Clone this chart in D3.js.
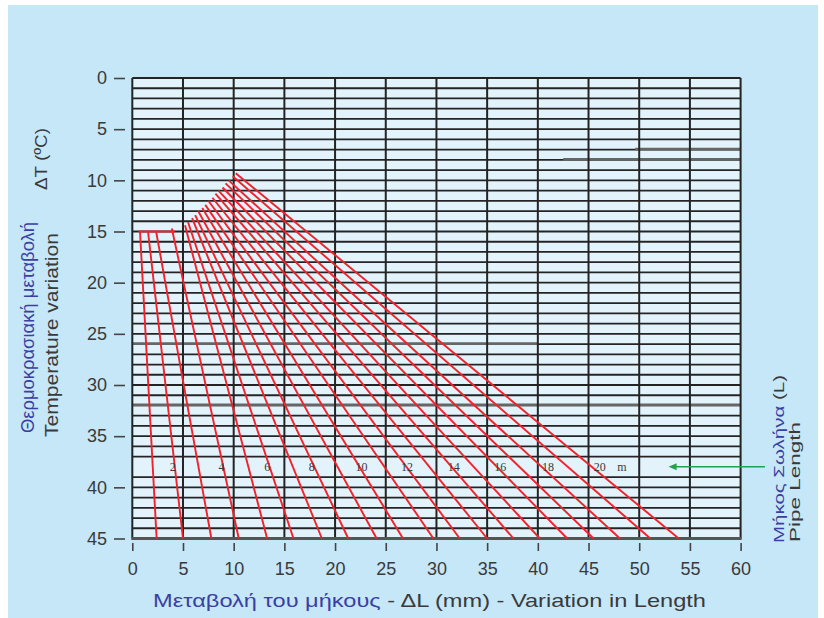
<!doctype html>
<html>
<head>
<meta charset="utf-8">
<script src="https://d3js.org/d3.v7.min.js"></script>
<style>
  body { margin: 0; background: #fff; }
  text { font-family: "Liberation Sans", Arial, sans-serif; }
</style>
</head>
<body>
<svg width="824" height="618"></svg>
<script>

// pipe lengths (m), one red line each
var pipeLengths = [1, 2, 3, 4, 5, 6, 7, 8, 9, 10, 11, 12, 13, 14, 15, 16, 17, 18, 19, 20];
// where each line starts (temperature variation in C, length variation in mm)
var startTemp = [15, 15, 15, 14.7, 14.4, 14.1, 13.7, 13.4, 13.0, 12.7, 12.4, 12.0, 11.7, 11.3, 11.0, 10.7, 10.3, 10.0, 9.6, 9.3];
var startDL   = [0.76, 1.55, 2.35, 3.9, 5.2, 5.5, 5.9, 6.2, 6.5, 6.9, 7.2, 7.5, 7.9, 8.2, 8.5, 8.9, 9.2, 9.5, 9.9, 10.2];
// where each line meets the bottom (dT = 45)
var endTemp = 45;
var endDL   = [2.4, 5.0, 7.8, 10.5, 13.3, 15.9, 18.7, 21.3, 24.1, 26.7, 29.7, 32.3, 35.0, 37.6, 40.2, 42.9, 45.5, 48.1, 51.1, 53.9];

// short red cap at dT = 15
var capTemp = 15;
var capDL = [0.6, 4.2];

// length labels inside the chart
var lengthLabels = ["2", "4", "6", "8", "10", "12", "14", "16", "18", "20"];
var labelDL      = [4.0, 8.8, 13.3, 17.7, 22.6, 27.1, 31.7, 36.3, 41.0, 46.1];
var labelTemp = 38;
var unitLabel = "m", unitDL = 48.3;

// green arrow
var arrowTemp = 38, arrowTipDL = 52.9, arrowTailDL = 62.4;

// axes and grid
var xTicks = [0, 5, 10, 15, 20, 25, 30, 35, 40, 45, 50, 55, 60];
var yTicks = [0, 5, 10, 15, 20, 25, 30, 35, 40, 45];
var rowTemps = [1, 2, 3, 4, 5, 6, 7, 8, 9, 10, 11, 12, 13, 14, 15, 16, 17, 18, 19, 20, 21, 22,
                23, 24, 25, 26, 27, 28, 29, 30, 31, 32, 33, 34, 35, 36, 37, 39, 40, 41, 42, 43, 44];
// greyish scan rules: [dT, from mm, to mm]
var greyRules = [[7, 49.6, 60], [8, 42.5, 60], [26, 0, 40], [32, 0, 60]];

var svg = d3.select("svg");
var blue = "#3b3fa3", dark = "#3a3a3a", gridCol = "#242424", red = "#f0222a";

svg.append("rect").attr("x", 8).attr("y", 5).attr("width", 810).attr("height", 613)
   .attr("fill", "#c5e7f8");

var x = d3.scaleLinear().domain([0, 60]).range([132.3, 740.6]);
var y = d3.scaleLinear().domain([0, 45]).range([78, 538.5]);

// plot area
svg.append("rect")
   .attr("x", x(0)).attr("y", y(0))
   .attr("width", x(60) - x(0)).attr("height", y(45) - y(0))
   .attr("fill", "#e2f3fc");

var grid = svg.append("g");
grid.selectAll(".row").data(rowTemps).enter().append("line")
    .attr("x1", x(0)).attr("x2", x(60))
    .attr("y1", function(d) { return y(d); }).attr("y2", function(d) { return y(d); })
    .attr("stroke", gridCol).attr("stroke-width", 1.8);

grid.selectAll(".grey").data(greyRules).enter().append("line")
    .attr("x1", function(d) { return x(d[1]); }).attr("x2", function(d) { return x(d[2]); })
    .attr("y1", function(d) { return y(d[0]) - 0.5; }).attr("y2", function(d) { return y(d[0]) - 0.5; })
    .attr("stroke", "#666").attr("stroke-width", 2.8);

grid.selectAll(".col").data(xTicks).enter().append("line")
    .attr("x1", function(d) { return x(d); }).attr("x2", function(d) { return x(d); })
    .attr("y1", y(0)).attr("y2", y(45))
    .attr("stroke", gridCol).attr("stroke-width", 2);

grid.append("line").attr("x1", x(0)).attr("x2", x(60)).attr("y1", y(0)).attr("y2", y(0))
    .attr("stroke", gridCol).attr("stroke-width", 2);
grid.append("line").attr("x1", x(0) - 1).attr("x2", x(60) + 1).attr("y1", y(45)).attr("y2", y(45))
    .attr("stroke", "#555").attr("stroke-width", 3);

// red lines
var lines = pipeLengths.map(function(L, i) {
    return [[startDL[i], startTemp[i]], [endDL[i], endTemp]];
});
var lineGen = d3.line().x(function(d) { return x(d[0]); }).y(function(d) { return y(d[1]); });

svg.append("g").selectAll("path").data(lines).enter().append("path")
   .attr("d", lineGen)
   .attr("fill", "none").attr("stroke", red).attr("stroke-width", 1.9);

svg.append("path")
   .attr("d", lineGen([[capDL[0], capTemp], [capDL[1], capTemp]]))
   .attr("stroke", red).attr("stroke-width", 1.9);

// length labels
svg.append("g").selectAll("text").data(lengthLabels).enter().append("text")
   .attr("x", function(d, i) { return x(labelDL[i]); })
   .attr("y", y(labelTemp) + 4)
   .attr("text-anchor", "middle")
   .style("font-family", "'Liberation Serif', serif")
   .style("font-size", "12px")
   .attr("fill", dark)
   .text(function(d) { return d; });
svg.append("text")
   .attr("x", x(unitDL)).attr("y", y(labelTemp) + 4)
   .attr("text-anchor", "middle")
   .style("font-family", "'Liberation Serif', serif")
   .style("font-size", "12px")
   .attr("fill", dark)
   .text(unitLabel);

// green arrow
var green = "#22a24f";
svg.append("line")
   .attr("x1", x(arrowTipDL) + 6).attr("x2", x(arrowTailDL))
   .attr("y1", y(arrowTemp)).attr("y2", y(arrowTemp))
   .attr("stroke", green).attr("stroke-width", 1.5);
svg.append("path")
   .attr("d", "M" + x(arrowTipDL) + "," + y(arrowTemp) + " l8,-3.5 l0,7 z")
   .attr("fill", green);

// axes
var xAxis = svg.append("g").attr("transform", "translate(0,543)")
   .call(d3.axisBottom(x).tickValues(xTicks).tickSize(8).tickPadding(11));
var yAxis = svg.append("g").attr("transform", "translate(125,0)")
   .call(d3.axisLeft(y).tickValues(yTicks).tickSize(11).tickPadding(7));
[xAxis, yAxis].forEach(function(a) {
    a.select(".domain").remove();
    a.selectAll("line").attr("stroke", "#444").attr("stroke-width", 1.6);
    a.selectAll("text").attr("fill", dark)
     .style("font-family", "'Liberation Sans', Arial, sans-serif")
     .style("font-size", "18px");
});

// x title
var xt = svg.append("text").attr("x", 153).attr("y", 607)
   .attr("textLength", 553).attr("lengthAdjust", "spacingAndGlyphs")
   .style("font-size", "19px");
xt.append("tspan").attr("fill", blue).text("Μεταβολή του μήκους");
xt.append("tspan").attr("fill", dark).text(" - ΔL (mm) - Variation in Length");

// y title
svg.append("text").attr("transform", "translate(34,433) rotate(-90)")
   .attr("textLength", 211).attr("lengthAdjust", "spacingAndGlyphs")
   .style("font-size", "18px").attr("fill", blue)
   .text("Θερμοκρασιακή μεταβολή");
svg.append("text").attr("transform", "translate(47,190) rotate(-90)")
   .attr("textLength", 62).attr("lengthAdjust", "spacingAndGlyphs")
   .style("font-size", "17px").attr("fill", dark)
   .text("ΔT (ºC)");
svg.append("text").attr("transform", "translate(58,437) rotate(-90)")
   .attr("textLength", 204).attr("lengthAdjust", "spacingAndGlyphs")
   .style("font-size", "18px").attr("fill", dark)
   .text("Temperature variation");

// right title
var rt = svg.append("text").attr("transform", "translate(784,543) rotate(-90)")
   .attr("textLength", 168).attr("lengthAdjust", "spacingAndGlyphs")
   .style("font-size", "15px");
rt.append("tspan").attr("fill", blue).text("Μήκος Σωλήνα ");
rt.append("tspan").attr("fill", dark).text("(L)");
svg.append("text").attr("transform", "translate(800,542) rotate(-90)")
   .attr("textLength", 120).attr("lengthAdjust", "spacingAndGlyphs")
   .style("font-size", "15px").attr("fill", dark)
   .text("Pipe Length");

</script>
</body>
</html>
